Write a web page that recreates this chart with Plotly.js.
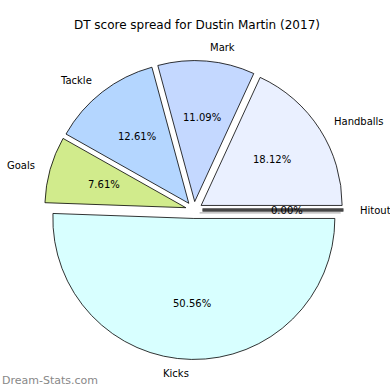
<!DOCTYPE html>
<html><head><meta charset="utf-8">
<script src="https://cdn.plot.ly/plotly-3.0.1.min.js"></script>
<style>html,body{margin:0;padding:0;background:#fff}#chart{width:390px;height:390px}</style>
</head><body><div id="chart"></div>
<script>
const categories = ["Handballs", "Mark", "Tackle", "Goals", "Kicks", "Hitout"];
const percents = [18.12, 11.09, 12.61, 7.61, 50.56, 0.00];
const colors = ["#eaf0ff", "#c4d8ff", "#b4d6ff", "#d1eb8c", "#d8ffff", "#ffffff"];
const titleText = "DT score spread for Dustin Martin (2017)";
const watermark = "Dream-Stats.com";

const W = 390, H = 390;
const cx = 194, cy = 210, r = 141, pull = 0.06;
const half = r * (1 + pull);
const sh = 0.02 * r;
const total = percents.reduce((a, b) => a + b, 0);
// Plotly (counterclockwise) puts the first slice clockwise of `rotation`,
// so rotate by the first slice's angle to start it at 3 o'clock.
const rotation = 90 - 360 * percents[0] / total;

const main = {
  type: 'pie', values: percents, labels: categories, sort: false,
  direction: 'counterclockwise', rotation: rotation, pull: pull,
  textinfo: 'none', showlegend: false,
  domain: {x: [(cx - half) / W, (cx + half) / W], y: [(H - cy - half) / H, (H - cy + half) / H]},
  marker: {colors: colors, line: {color: '#000', width: 0.8}}
};

const annotations = [];
const shapes = [];
let cum = 0;
percents.forEach((p, i) => {
  const a0 = cum / total * 2 * Math.PI;
  cum += p;
  const a1 = cum / total * 2 * Math.PI;
  const tm = (a0 + a1) / 2;
  const ex = cx + pull * r * Math.cos(tm), ey = cy - pull * r * Math.sin(tm);
  const lx = ex + 1.1 * r * Math.cos(tm), ly = ey - 1.1 * r * Math.sin(tm);
  const px = ex + 0.6 * r * Math.cos(tm), py = ey - 0.6 * r * Math.sin(tm);
  annotations.push({x: lx / W, y: 1 - ly / H, xref: 'paper', yref: 'paper',
    text: categories[i], showarrow: false, xanchor: Math.cos(tm) >= 0 ? 'left' : 'right',
    yanchor: 'middle', font: {family: 'DejaVu Sans', size: 10, color: '#000'}});
  annotations.push({x: px / W, y: 1 - py / H, xref: 'paper', yref: 'paper',
    text: p.toFixed(2) + '%', showarrow: false, xanchor: 'center', yanchor: 'middle',
    font: {family: 'DejaVu Sans', size: 10, color: '#000'}});
  if (p === 0) {
    const x2 = ex + r * Math.cos(tm), y2 = ey - r * Math.sin(tm);
    shapes.push({type: 'line', xref: 'paper', yref: 'paper',
      x0: (ex - sh) / W, y0: 1 - (ey + sh) / H, x1: (x2 - sh) / W, y1: 1 - (y2 + sh) / H,
      line: {color: 'rgba(0,0,0,0.3)', width: 1.2}});
    shapes.push({type: 'line', xref: 'paper', yref: 'paper',
      x0: ex / W, y0: 1 - (ey - 1.2) / H, x1: x2 / W, y1: 1 - (y2 - 1.2) / H,
      line: {color: '#000', width: 0.8}});
    shapes.push({type: 'line', xref: 'paper', yref: 'paper',
      x0: ex / W, y0: 1 - (ey + 1.2) / H, x1: x2 / W, y1: 1 - (y2 + 1.2) / H,
      line: {color: '#000', width: 0.8}});
  }
});
annotations.push({x: 0, y: 1 - 380 / H, xref: 'paper', yref: 'paper', text: watermark,
  showarrow: false, xanchor: 'left', yanchor: 'middle',
  font: {family: 'DejaVu Sans', size: 11, color: '#888'}});

const baseLayout = {width: W, height: H, margin: {l: 0, r: 0, t: 0, b: 0},
  paper_bgcolor: '#fff', plot_bgcolor: '#fff'};
Plotly.newPlot('chart', [main], baseLayout, {staticPlot: true}).then(gd =>
  Plotly.relayout(gd, {
    title: {text: titleText, x: 0.505, xanchor: 'center', y: 1 - 25 / H, yanchor: 'middle',
      font: {family: 'DejaVu Sans', size: 12, color: '#000'}},
    annotations: annotations, shapes: shapes
  }));
</script></body></html>
